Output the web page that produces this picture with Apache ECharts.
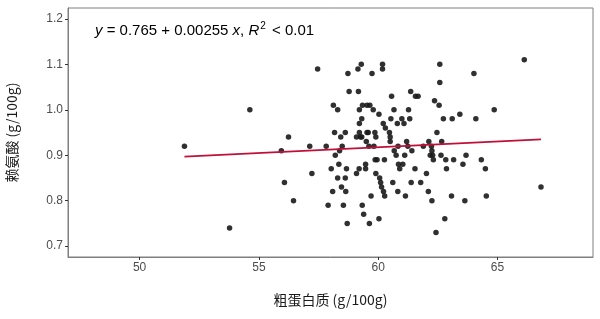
<!DOCTYPE html>
<html><head><meta charset="utf-8">
<script src="https://cdn.jsdelivr.net/npm/echarts@6/dist/echarts.min.js"></script>
<style>html,body{margin:0;padding:0;background:#fff}#c{width:600px;height:319px}</style>
</head><body><div id="c"></div>
<script>
const xTicks = [50, 55, 60, 65];
const yTicks = [0.7, 0.8, 0.9, 1.0, 1.1, 1.2];
const protein = [51.88,53.77,54.62,55.94,56.07,56.24,56.45,57.13,57.22,57.46,57.82,57.90,58.03,58.09,58.12,58.17,58.20,58.30,58.30,58.35,58.38,58.43,58.46,58.49,58.54,58.62,58.62,58.64,58.67,58.70,58.73,58.78,59.09,59.09,59.15,59.17,59.20,59.21,59.21,59.21,59.26,59.29,59.31,59.31,59.33,59.34,59.39,59.47,59.47,59.50,59.53,59.53,59.58,59.61,59.63,59.65,59.70,59.74,59.79,59.82,59.86,59.87,59.90,59.90,59.95,60.03,60.03,60.06,60.10,60.14,60.18,60.18,60.21,60.22,60.26,60.27,60.30,60.47,60.50,60.50,60.53,60.56,60.61,60.66,60.67,60.75,60.80,60.82,60.83,60.85,60.90,60.99,61.03,61.08,61.11,61.14,61.19,61.24,61.27,61.32,61.36,61.38,61.41,61.54,61.56,61.67,61.78,61.89,62.02,62.10,62.12,62.18,62.23,62.25,62.25,62.28,62.31,62.36,62.42,62.46,62.55,62.58,62.58,62.63,62.66,62.73,62.79,62.83,62.86,63.07,63.10,63.16,63.42,63.55,63.63,63.68,64.01,64.09,64.32,64.49,64.53,64.86,66.12,66.82];
const lysine = [0.92,0.74,1.00,0.91,0.84,0.94,0.80,0.92,0.86,1.09,0.92,0.79,0.87,0.82,1.01,0.95,0.90,1.00,0.85,0.88,0.91,0.94,0.83,0.92,0.79,0.95,0.85,0.82,0.87,0.75,1.08,1.04,0.94,0.86,1.09,1.04,0.87,1.00,0.97,0.95,0.94,1.10,0.98,0.94,0.79,1.01,0.77,0.88,0.87,0.93,1.01,0.95,0.95,0.92,0.75,1.01,0.81,1.08,1.00,0.92,0.95,0.89,0.94,0.86,0.89,0.99,0.76,0.85,0.84,0.83,1.10,1.09,0.97,0.82,0.89,0.81,0.96,0.95,0.94,0.93,0.98,1.03,0.84,1.00,0.91,0.90,0.97,0.82,0.92,0.88,0.87,0.98,0.88,0.97,0.90,0.81,0.93,0.92,1.00,0.98,1.04,0.84,0.91,0.87,1.03,1.03,0.84,0.92,0.86,0.82,0.93,0.90,0.92,0.91,0.80,0.90,0.89,1.02,0.73,0.95,1.01,1.10,1.06,0.90,0.93,0.98,0.76,0.89,0.87,0.81,0.98,0.89,0.99,0.88,0.80,0.90,1.08,0.98,0.89,0.87,0.81,1.00,1.11,0.83];
const fitX = [51.88, 66.82];
const fitY = [0.897, 0.935];

const points = protein.map((x, i) => [x, lysine[i]]);
const fitLine = fitX.map((x, i) => [x, fitY[i]]);

const chart = echarts.init(document.getElementById('c'), null, {renderer: 'canvas'});
const axisCol = '#7f7f7f';
const labCol = '#4d4d4d';
chart.setOption({
  animation: false,
  backgroundColor: '#fff',
  grid: {left: 68, right: 7, top: 8, bottom: 62, show: true, borderColor: axisCol, borderWidth: 1,
         containLabel: false, outerBoundsMode: 'none'},
  xAxis: {
    type: 'value', min: 47, max: 69,
    name: '粗蛋白质 (g/100g)', nameLocation: 'middle', nameGap: 36,
    nameTextStyle: {fontSize: 14, color: '#1a1a1a', fontFamily: 'Noto Sans CJK SC, Liberation Sans'},
    axisLine: {show: true, lineStyle: {color: axisCol, width: 1}},
    axisTick: {show: true, length: 3, lineStyle: {color: '#333'}, customValues: xTicks},
    axisLabel: {color: labCol, fontSize: 12, margin: 5, fontFamily: 'Liberation Sans', customValues: xTicks},
    splitLine: {show: false}
  },
  yAxis: {
    type: 'value', min: 0.676, max: 1.224,
    name: '赖氨酸 (g/100g)', nameLocation: 'middle', nameGap: 49,
    nameTextStyle: {fontSize: 14, color: '#1a1a1a', fontFamily: 'Noto Sans CJK SC, Liberation Sans'},
    axisLine: {show: true, lineStyle: {color: axisCol, width: 1}},
    axisTick: {show: true, length: 3, lineStyle: {color: '#333'}, customValues: yTicks},
    axisLabel: {color: labCol, fontSize: 12, margin: 5, fontFamily: 'Liberation Sans', customValues: yTicks,
      formatter: v => v.toFixed(1)},
    splitLine: {show: false}
  },
  series: [
    {type: 'scatter', data: points, symbolSize: 5.5, itemStyle: {color: '#1a1a1a', opacity: 0.9}, z: 2},
    {type: 'line', data: fitLine, showSymbol: false, lineStyle: {color: '#c0103a', width: 1.8}, z: 3}
  ],
  graphic: [{
    type: 'text', left: 95, top: 21,
    style: {
      text: '{i|y} = 0.765 + 0.00255 {i|x}, {i|R}{s|2} < 0.01',
      fontSize: 15, fill: '#000', fontFamily: 'Liberation Sans',
      rich: {
        i: {fontStyle: 'italic', fontSize: 15, fontFamily: 'Liberation Sans'},
        s: {fontSize: 10, fontFamily: 'Liberation Sans', verticalAlign: 'top', padding: [0, 2, 10, 1]}
      }
    }
  }]
});
</script></body></html>
